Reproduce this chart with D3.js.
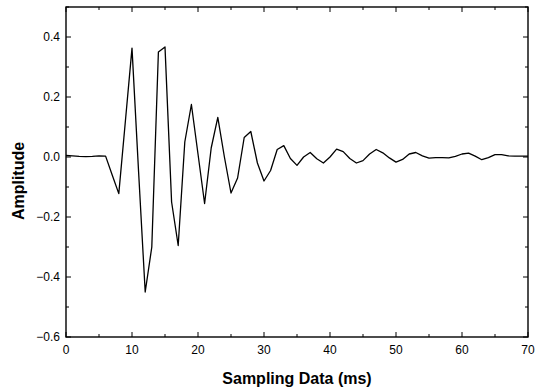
<!DOCTYPE html>
<html>
<head>
<meta charset="utf-8">
<script src="https://cdn.jsdelivr.net/npm/d3@7"></script>
<style>
  body { margin: 0; background: #fff; }
  svg { display: block; font-family: "Liberation Sans", Arial, sans-serif; }
</style>
</head>
<body>
<svg id="chart" width="545" height="388"></svg>
<script>
// sampling time (ms) and amplitude
const timeMs = [
  0, 1, 2, 3, 4, 5, 6, 7, 8, 9, 10, 11, 12, 13, 14, 15, 16, 17, 18, 19,
  20, 21, 22, 23, 24, 25, 26, 27, 28, 29, 30, 31, 32, 33, 34, 35, 36, 37, 38, 39,
  40, 41, 42, 43, 44, 45, 46, 47, 48, 49, 50, 51, 52, 53, 54, 55, 56, 57, 58, 59,
  60, 61, 62, 63, 64, 65, 66, 67, 68, 69, 70
];
const amplitude = [
  0.005, 0.004, 0.002, 0.001, 0.002, 0.004, 0.003, -0.06, -0.122, 0.12, 0.363, -0.05, -0.45, -0.3, 0.35, 0.367, -0.15, -0.295, 0.05, 0.175,
  0.01, -0.155, 0.03, 0.132, 0.0, -0.12, -0.07, 0.065, 0.085, -0.02, -0.08, -0.045, 0.025, 0.038, -0.005, -0.028, 0.0, 0.015, -0.006, -0.02,
  0.0, 0.026, 0.018, -0.005, -0.02, -0.012, 0.01, 0.025, 0.014, -0.003, -0.017, -0.008, 0.01, 0.015, 0.004, -0.004, -0.002, -0.002, -0.003, 0.002,
  0.01, 0.013, 0.003, -0.009, -0.002, 0.008, 0.008, 0.004, 0.003, 0.003, 0.003
];
const xTicks = [0, 10, 20, 30, 40, 50, 60, 70];
const xMinorTicks = [5, 15, 25, 35, 45, 55, 65];
const yTicks = [-0.6, -0.4, -0.2, 0.0, 0.2, 0.4];
const yMinorTicks = [-0.5, -0.3, -0.1, 0.1, 0.3, 0.5];

const data = timeMs.map((t, i) => ({ x: t, y: amplitude[i] }));

const margin = { top: 7, right: 17, bottom: 51, left: 66 };
const width = 545;
const height = 388;
const chartWidth = width - margin.left - margin.right;
const chartHeight = height - margin.top - margin.bottom;

const svg = d3.select('#chart');
const g = svg.append('g').attr('transform', `translate(${margin.left},${margin.top})`);

const xScale = d3.scaleLinear().domain([0, 70]).range([0, chartWidth]);
const yScale = d3.scaleLinear().domain([-0.6, 0.5]).range([chartHeight, 0]);

// frame
g.append('rect')
  .attr('x', 0).attr('y', 0)
  .attr('width', chartWidth).attr('height', chartHeight)
  .attr('fill', 'none').attr('stroke', '#000').attr('stroke-width', 1.4);

// inward ticks on all four sides
function tickLines(sel, vals, len, horizontal, pos, dir) {
  sel.selectAll(null).data(vals).enter().append('line')
    .attr('x1', d => horizontal ? xScale(d) : pos)
    .attr('x2', d => horizontal ? xScale(d) : pos + dir * len)
    .attr('y1', d => horizontal ? pos : yScale(d))
    .attr('y2', d => horizontal ? pos + dir * len : yScale(d))
    .attr('stroke', '#000').attr('stroke-width', 1);
}
tickLines(g, xTicks, 5, true, chartHeight, -1);
tickLines(g, xMinorTicks, 3, true, chartHeight, -1);
tickLines(g, xTicks, 5, true, 0, 1);
tickLines(g, xMinorTicks, 3, true, 0, 1);
tickLines(g, yTicks, 5, false, 0, 1);
tickLines(g, yMinorTicks, 3, false, 0, 1);
tickLines(g, yTicks, 5, false, chartWidth, -1);
tickLines(g, yMinorTicks, 3, false, chartWidth, -1);

// tick labels
g.selectAll('.xlab').data(xTicks).enter().append('text')
  .attr('class', 'xlab')
  .attr('x', d => xScale(d))
  .attr('y', chartHeight + 17)
  .attr('text-anchor', 'middle')
  .attr('font-size', 12)
  .text(d => d);

g.selectAll('.ylab').data(yTicks).enter().append('text')
  .attr('class', 'ylab')
  .attr('x', -6)
  .attr('y', d => yScale(d) + 4)
  .attr('text-anchor', 'end')
  .attr('font-size', 12)
  .text(d => d3.format('.1f')(d));

// signal trace
const line = d3.line()
  .x(d => xScale(d.x))
  .y(d => yScale(d.y));

g.append('path')
  .datum(data)
  .attr('fill', 'none')
  .attr('stroke', '#000')
  .attr('stroke-width', 1.3)
  .attr('stroke-linejoin', 'round')
  .attr('d', line);

// axis titles
svg.append('text')
  .attr('x', margin.left + chartWidth / 2)
  .attr('y', 384)
  .attr('text-anchor', 'middle')
  .attr('font-size', 16)
  .attr('font-weight', 'bold')
  .text('Sampling Data (ms)');

svg.append('text')
  .attr('transform', 'translate(24,181) rotate(-90)')
  .attr('text-anchor', 'middle')
  .attr('font-size', 16)
  .attr('font-weight', 'bold')
  .text('Amplitude');
</script>
</body>
</html>
